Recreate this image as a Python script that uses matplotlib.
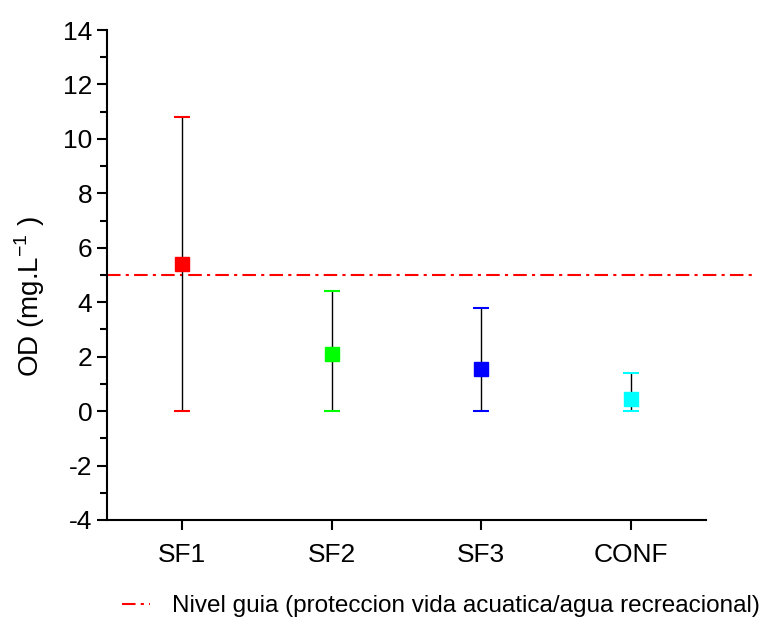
import numpy as np
import matplotlib
matplotlib.use('Agg')
import matplotlib.pyplot as plt
from matplotlib.ticker import MultipleLocator

plt.rcParams['font.family'] = ['Liberation Sans', 'DejaVu Sans']
plt.rcParams['axes.unicode_minus'] = False

# datos de oxigeno disuelto por sitio
sitios = ['SF1', 'SF2', 'SF3', 'CONF']
od_medio = [5.4, 2.1, 1.55, 0.45]
od_min = [0.0, 0.0, 0.0, 0.0]
od_max = [10.8, 4.4, 3.8, 1.4]
colores = ['#ff0000', '#00ff00', '#0000ff', '#00ffff']
nivel_guia = 5.0

x = np.arange(1, len(sitios) + 1)
err_inf = np.array(od_medio) - np.array(od_min)
err_sup = np.array(od_max) - np.array(od_medio)

fig = plt.figure(figsize=(7.64, 6.19), dpi=100)
ax = fig.add_axes([0.140, 0.160, 0.784, 0.7915])

for i in range(len(sitios)):
    linea, caps, barras = ax.errorbar(x[i], od_medio[i],
                                      yerr=[[err_inf[i]], [err_sup[i]]],
                                      fmt='s', color=colores[i], ms=10,
                                      ecolor='black', elinewidth=1.0,
                                      capsize=6, capthick=1.5, zorder=3)
    for c in caps:
        c.set_markeredgecolor(colores[i])

guia = ax.axhline(nivel_guia, xmin=0, xmax=(757 - 107) / (706 - 107),
                  color='#ff0000', lw=1.5, linestyle=(0, (6.5, 2.5, 1.5, 2.5)),
                  clip_on=False, zorder=2,
                  label='Nivel guia (proteccion vida acuatica/agua recreacional)')

ax.set_xlim(0.5, 4.5)
ax.set_ylim(-4, 14)
ax.set_xticks(x)
ax.set_xticklabels(sitios)
ax.yaxis.set_major_locator(MultipleLocator(2))
ax.yaxis.set_minor_locator(MultipleLocator(1))

ax.spines['top'].set_visible(False)
ax.spines['right'].set_visible(False)
for s in ['left', 'bottom']:
    ax.spines[s].set_linewidth(1.5)

ax.tick_params(axis='both', which='major', direction='out', length=7.5,
               width=1.5, labelsize=19)
ax.tick_params(axis='y', which='minor', direction='out', length=5, width=1.5)
ax.tick_params(axis='x', which='major', pad=9)
ax.tick_params(axis='y', which='major', pad=3)

ax.set_ylabel('OD (mg.L$^{\\mathregular{-1}}$ )', fontsize=20)
ax.yaxis.set_label_coords(-0.100, 0.455)

fig.legend(handles=[guia], loc='center', bbox_to_anchor=(441 / 764, 0.021),
           frameon=False, fontsize=17.5, handlelength=1.15, handletextpad=0.9)

fig.savefig('out.png', dpi=100)
